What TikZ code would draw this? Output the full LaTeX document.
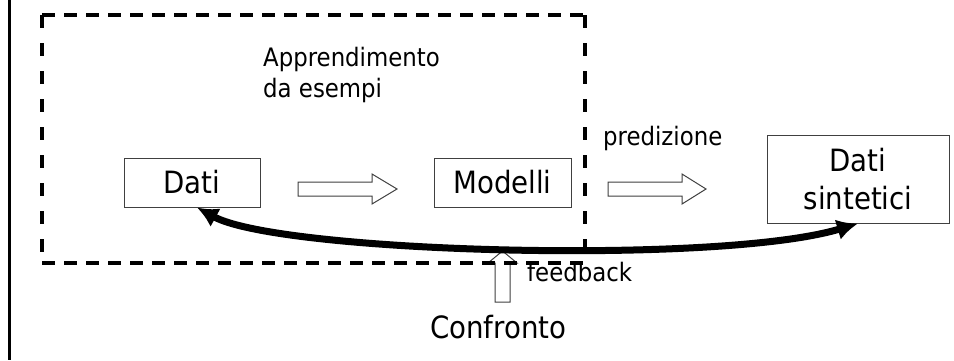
\documentclass[tikz,border=0pt]{standalone}
\usepackage{fontspec}
\setmainfont{DejaVu Sans Condensed}
\usetikzlibrary{arrows.meta}

\tikzset{
  smalltext/.style={inner sep=0pt, anchor=base west, font=\fontsize{25.4}{31}\selectfont},
  bigtext/.style={inner sep=0pt, anchor=base west, font=\fontsize{30.7}{38}\selectfont},
  boxnode/.style={draw=black!75, line width=1pt, fill=white, inner sep=0pt,
    align=center, font=\fontsize{30.7}{38}\selectfont},
  hollow/.style={draw=black!75, line width=1pt, fill=white},
  hdash/.style={line width=3.5pt, dash pattern=on 13pt off 9pt},
  vdash/.style={line width=3.5pt, dash pattern=on 13pt off 15pt},
  feedbackarrow/.style={line width=7pt, {Latex[length=21pt,width=21pt]}-{Latex[length=21pt,width=21pt]}},
  % block arrow: #1 total length, #2 head length, #3 shaft half width, #4 head half width
  pics/blockarrow/.style n args={4}{code={
    \draw[hollow] (0,#3) -- ({#1-#2},#3) -- ({#1-#2},#4) -- (#1,0)
      -- ({#1-#2},-#4) -- ({#1-#2},-#3) -- (0,-#3) -- cycle;
  }}
}

\begin{document}
\begin{tikzpicture}[x=1pt, y=-1pt]
  \fill[white] (0,0) rectangle (954,360);
  \useasboundingbox (0,0) rectangle (954,360);

  % outer frame edge
  \draw[line width=3.5pt] (9.5,0) -- (9.5,360);

  % boxes
  \node[boxnode, minimum width=136pt, minimum height=49pt] (dati) at (192,182.5) {Dati};
  \node[boxnode, minimum width=137pt, minimum height=49pt] (modelli) at (502.5,182.5) {Modelli};
  \node[boxnode, minimum width=182pt, minimum height=88pt] (sint) at (858,179) {Dati\\sintetici};

  % labels
  \node[smalltext] (ap1) at (263,66) {Apprendimento};
  \node[smalltext] (ap2) at (263,97) {da esempi};
  \node[smalltext] (pred) at (603,145) {predizione};
  \node[smalltext] (feed) at (527,281) {feedback};
  \node[bigtext] (conf) at (430,338) {Confronto};

  % block arrows
  \pic (learn) at (298,189) {blockarrow={99}{25}{7}{15}};
  \pic (predict) at (608,189) {blockarrow={98}{24}{7}{15}};
  \pic[rotate=90] (compare) at (502.5,302) {blockarrow={51}{12}{7.5}{14.5}};

  % dashed learning region
  \draw[hdash] (42,15) -- (585,15);
  \draw[hdash] (42,263) -- (585,263);
  \draw[vdash] (42,15) -- (42,263);
  \draw[vdash] (585,15) -- (585,263);

  % feedback loop
  \draw[feedbackarrow] ([xshift=5pt]dati.south) .. controls (280,253) and (720,265) .. (sint.south);
\end{tikzpicture}
\end{document}
